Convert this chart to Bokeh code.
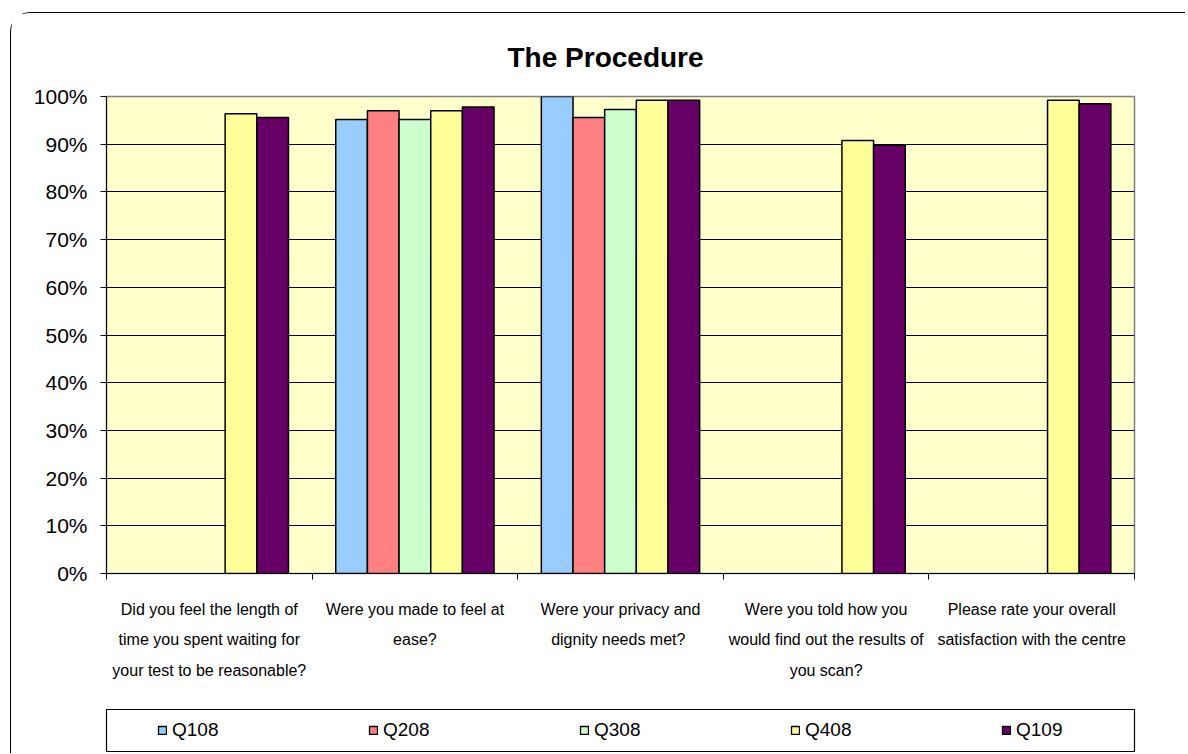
from bokeh.plotting import figure
from bokeh.layouts import column
from bokeh.models import (ColumnDataSource, Range1d, FixedTicker, NumeralTickFormatter,
                          Legend, LegendItem)
from bokeh.transform import dodge
from bokeh.embed import file_html
from bokeh.resources import INLINE

NaN = float("nan")

# ---- data ----
categories = [
    "Did you feel the length of\ntime you spent waiting for\nyour test to be reasonable?",
    "Were you made to feel at\nease?",
    "Were your privacy and\ndignity  needs met?",
    "Were you told how you\nwould find out the results of\nyou scan?",
    "Please rate your overall\nsatisfaction with the centre",
]
series_names = ["Q108", "Q208", "Q308", "Q408", "Q109"]
q108 = [NaN, 0.952, 1.000, NaN, NaN]
q208 = [NaN, 0.970, 0.956, NaN, NaN]
q308 = [NaN, 0.952, 0.973, NaN, NaN]
q408 = [0.964, 0.970, 0.992, 0.908, 0.992]
q109 = [0.956, 0.978, 0.992, 0.898, 0.985]
y_ticks = [i / 10 for i in range(11)]
title_text = "The Procedure"

colors = ["#99CCFF", "#FF8080", "#CCFFCC", "#FFFF99", "#660066"]
FONT = "Liberation Sans"

W = 1174
HM, HL = 687, 53
centers = [i + 0.5 for i in range(len(categories))]
bounds = [float(i) for i in range(len(categories) + 1)]

source = ColumnDataSource(dict(x=centers, Q108=q108, Q208=q208, Q308=q308, Q408=q408, Q109=q109))

# ---- main chart ----
p = figure(width=W, height=HM, output_backend="svg", toolbar_location=None,
           x_range=Range1d(0, len(categories)), y_range=Range1d(0, 1),
           min_border_left=95, min_border_right=51, min_border_top=83, min_border_bottom=127)
p.background_fill_color = "#FFFFCC"
p.border_fill_color = "#FFFFFF"
p.outline_line_color = "#808080"
p.outline_line_width = 1.5

p.title.text = title_text
p.title.align = "left"
p.title.offset = 401
p.title.standoff = 47
p.title.text_font = FONT
p.title.text_font_size = "28px"
p.title.text_font_style = "bold"
p.title.text_color = "#000000"

bar_w = 0.154
offsets = [-2 * bar_w, -bar_w, 0.0, bar_w, 2 * bar_w]
for name, col, off in zip(series_names, colors, offsets):
    p.vbar(x=dodge("x", off, range=p.x_range), top=name, width=bar_w, source=source,
           fill_color=col, line_color="#000000", line_width=1.5)

# y axis
p.yaxis.ticker = FixedTicker(ticks=y_ticks)
p.yaxis.formatter = NumeralTickFormatter(format="0%")
p.yaxis.major_label_text_font = FONT
p.yaxis.major_label_text_font_size = "21px"
p.yaxis.major_label_text_color = "#000000"
p.yaxis.major_label_standoff = 13
p.yaxis.major_tick_out = 6
p.yaxis.major_tick_in = 0
p.yaxis.minor_tick_line_color = None
p.yaxis.axis_line_color = "#000000"
p.yaxis.major_tick_line_color = "#000000"

# x axis
p.xaxis.ticker = FixedTicker(ticks=centers, minor_ticks=bounds)
p.xaxis.major_label_overrides = {c: lab for c, lab in zip(centers, categories)}
p.xaxis.major_tick_line_color = None
p.xaxis.minor_tick_line_color = "#000000"
p.xaxis.minor_tick_out = 6
p.xaxis.minor_tick_in = 0
p.xaxis.axis_line_color = "#000000"
p.xaxis.major_label_text_font = FONT
p.xaxis.major_label_text_font_size = "16px"
p.xaxis.major_label_text_line_height = 1.8
p.xaxis.major_label_text_color = "#000000"
p.xaxis.major_label_standoff = 21

p.xgrid.grid_line_color = None
p.ygrid.grid_line_color = "#000000"
p.ygrid.grid_line_width = 1

# ---- legend panel (its frame is the legend box) ----
pl = figure(width=W, height=HL, output_backend="svg", toolbar_location=None,
            x_axis_type=None, y_axis_type=None,
            x_range=Range1d(0, 1), y_range=Range1d(0, 1),
            min_border_left=95, min_border_right=51, min_border_top=9, min_border_bottom=2)
pl.outline_line_color = "#000000"
pl.outline_line_width = 1.2
pl.background_fill_color = "#FFFFFF"
pl.border_fill_color = "#FFFFFF"

leg_src = ColumnDataSource(dict(x=[NaN], top=[NaN]))  # placeholder row: nothing is drawn
items = []
for name, col in zip(series_names, colors):
    r = pl.vbar(x="x", top="top", width=0.1, source=leg_src,
                fill_color=col, line_color="#000000", line_width=1.3)
    items.append(LegendItem(label=name, renderers=[r]))

legend = Legend(items=items, orientation="horizontal", location=(51, 10),
                border_line_color=None, background_fill_alpha=0,
                padding=0, margin=0, spacing=89,
                glyph_width=10, glyph_height=10, label_standoff=5,
                label_width=107, label_height=22,
                label_text_font=FONT, label_text_font_size="19px",
                label_text_color="#000000")
pl.add_layout(legend, "center")

layout = column(p, pl, spacing=0,
                styles={"margin-left": "10px", "margin-top": "12px",
                        "border-left": "1px solid #000000",
                        "border-top": "1px solid #000000",
                        "border-top-left-radius": "20px"})

open("out.html", "w").write(file_html(layout, INLINE))
